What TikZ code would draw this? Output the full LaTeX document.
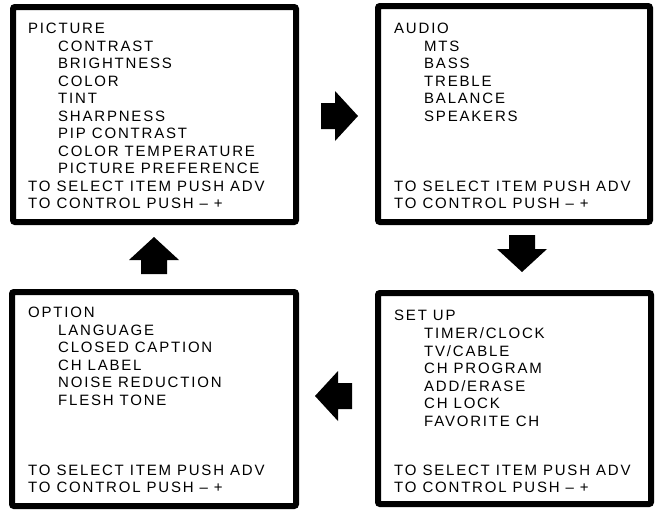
\documentclass[tikz,border=0pt]{standalone}
\usepackage{fontspec}
\newfontfamily\osdfont[LetterSpace=12]{Liberation Sans}

\begin{document}
\begin{tikzpicture}[x=1pt, y=-1pt,
    screen/.style={draw, line width=6pt, rounded corners=2pt},
    menu/.style={anchor=north west, inner sep=0pt, align=left,
        font=\osdfont\fontsize{15}{17.5}\selectfont},
    bigarrow/.style={fill=black}]
\useasboundingbox (0,0) rectangle (655,509);

% the four screens
\draw[screen] (13,7) rectangle (296,222);
\draw[screen] (378,6) rectangle (650,222);
\draw[screen] (12,292) rectangle (296,506);
\draw[screen] (378,293) rectangle (651,504);

% picture menu
\node[menu] (pictitle) at (28,23) {PICTURE};
\node[menu] (picitems) at (58,40.5) {CONTRAST\\BRIGHTNESS\\COLOR\\TINT\\SHARPNESS\\PIP CONTRAST\\COLOR TEMPERATURE\\PICTURE PREFERENCE};
\node[menu] (picfoot) at (28,180.5) {TO SELECT ITEM PUSH ADV\\TO CONTROL PUSH \textendash\ +};

% audio menu
\node[menu] (audtitle) at (394,23) {AUDIO};
\node[menu] (auditems) at (424,40.5) {MTS\\BASS\\TREBLE\\BALANCE\\SPEAKERS};
\node[menu] (audfoot) at (394,180.5) {TO SELECT ITEM PUSH ADV\\TO CONTROL PUSH \textendash\ +};

% option menu
\node[menu] (opttitle) at (28,307) {OPTION};
\node[menu] (optitems) at (58,324.5) {LANGUAGE\\CLOSED CAPTION\\CH LABEL\\NOISE REDUCTION\\FLESH TONE};
\node[menu] (optfoot) at (28,464.5) {TO SELECT ITEM PUSH ADV\\TO CONTROL PUSH \textendash\ +};

% set up menu
\node[menu] (settitle) at (394,310) {SET UP};
\node[menu] (setitems) at (424,327.5) {TIMER/CLOCK\\TV/CABLE\\CH PROGRAM\\ADD/ERASE\\CH LOCK\\FAVORITE CH};
\node[menu] (setfoot) at (394,464.5) {TO SELECT ITEM PUSH ADV\\TO CONTROL PUSH \textendash\ +};

% arrows between the screens
\fill[bigarrow, shift={(358,116)}] (0,0) -- (-23,-25) -- (-23,-13) -- (-37,-13) -- (-37,13) -- (-23,13) -- (-23,25) -- cycle;
\fill[bigarrow, shift={(522,272)}, rotate=-90] (0,0) -- (-23,-25) -- (-23,-13) -- (-37,-13) -- (-37,13) -- (-23,13) -- (-23,25) -- cycle;
\fill[bigarrow, shift={(315,396)}, rotate=180] (0,0) -- (-23,-25) -- (-23,-13) -- (-37,-13) -- (-37,13) -- (-23,13) -- (-23,25) -- cycle;
\fill[bigarrow, shift={(154,237)}, rotate=90] (0,0) -- (-23,-25) -- (-23,-13) -- (-37,-13) -- (-37,13) -- (-23,13) -- (-23,25) -- cycle;
\end{tikzpicture}
\end{document}
